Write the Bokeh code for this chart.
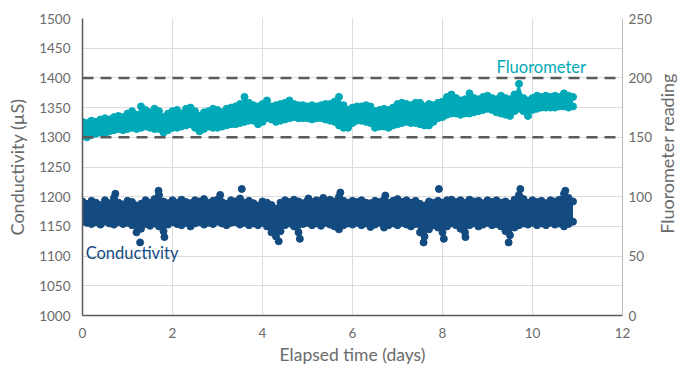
import math
from bokeh.plotting import figure
from bokeh.layouts import row
from bokeh.models import Range1d, LinearAxis, FixedTicker, Label, Span
from bokeh.embed import file_html
from bokeh.resources import INLINE

# ---------------- data ----------------
time_days = [
    0.0, 0.1, 0.2, 0.3, 0.4, 0.5, 0.6, 0.7, 0.8, 0.9,
    1.0, 1.1, 1.2, 1.3, 1.4, 1.5, 1.6, 1.7, 1.8, 1.9,
    2.0, 2.1, 2.2, 2.3, 2.4, 2.5, 2.6, 2.7, 2.8, 2.9,
    3.0, 3.1, 3.2, 3.3, 3.4, 3.5, 3.6, 3.7, 3.8, 3.9,
    4.0, 4.1, 4.2, 4.3, 4.4, 4.5, 4.6, 4.7, 4.8, 4.9,
    5.0, 5.1, 5.2, 5.3, 5.4, 5.5, 5.6, 5.7, 5.8, 5.9,
    6.0, 6.1, 6.2, 6.3, 6.4, 6.5, 6.6, 6.7, 6.8, 6.9,
    7.0, 7.1, 7.2, 7.3, 7.4, 7.5, 7.6, 7.7, 7.8, 7.9,
    8.0, 8.1, 8.2, 8.3, 8.4, 8.5, 8.6, 8.7, 8.8, 8.9,
    9.0, 9.1, 9.2, 9.3, 9.4, 9.5, 9.6, 9.7, 9.8, 9.9,
    10.0, 10.1, 10.2, 10.3, 10.4, 10.5, 10.6, 10.7, 10.8, 10.9,
]

fluor_high = [
    163, 162, 164, 163, 165, 166, 165, 167, 168, 167,
    170, 172, 169, 176, 173, 171, 174, 172, 167, 170,
    172, 173, 170, 174, 175, 172, 168, 171, 172, 174,
    173, 171, 174, 175, 176, 178, 184, 179, 177, 176,
    178, 181, 176, 177, 178, 179, 181, 178, 177, 177,
    176, 177, 176, 177, 178, 178, 180, 184, 177, 173,
    175, 176, 176, 177, 176, 172, 173, 174, 173, 175,
    178, 179, 178, 177, 179, 179, 176, 178, 177, 179,
    180, 184, 186, 183, 181, 182, 187, 183, 182, 184,
    185, 183, 182, 185, 183, 182, 186, 195, 183, 181,
    183, 185, 184, 185, 184, 185, 184, 187, 185, 184,
]
fluor_low = [
    151, 150, 152, 153, 154, 153, 155, 156, 157, 156,
    157, 158, 157, 158, 159, 158, 157, 157, 154, 156,
    158, 158, 159, 160, 161, 158, 155, 157, 159, 158,
    158, 159, 160, 161, 161, 162, 163, 164, 164, 161,
    163, 166, 165, 163, 164, 165, 166, 167, 166, 166,
    166, 165, 166, 166, 165, 164, 163, 160, 158, 158,
    162, 164, 164, 163, 162, 158, 159, 159, 158, 160,
    161, 162, 163, 162, 162, 161, 160, 160, 163, 166,
    167, 169, 170, 170, 169, 170, 170, 171, 172, 173,
    174, 173, 171, 170, 169, 168, 172, 174, 172, 168,
    173, 174, 175, 175, 175, 175, 176, 176, 175, 176,
]

cond_high = [
    1192, 1188, 1193, 1190, 1186, 1194, 1189, 1198, 1190, 1187,
    1193, 1191, 1185, 1188, 1194, 1190, 1196, 1203, 1192, 1189,
    1194, 1190, 1195, 1191, 1189, 1194, 1192, 1196, 1190, 1193,
    1195, 1191, 1188, 1194, 1192, 1197, 1190, 1193, 1189, 1185,
    1192, 1190, 1186, 1180, 1190, 1194, 1191, 1195, 1192, 1189,
    1193, 1191, 1194, 1190, 1192, 1195, 1192, 1200, 1193, 1190,
    1193, 1191, 1194, 1190, 1189, 1193, 1191, 1195, 1190, 1193,
    1196, 1191, 1194, 1190, 1193, 1188, 1185, 1192, 1190, 1193,
    1190, 1194, 1195, 1191, 1194, 1190, 1195, 1192, 1193, 1189,
    1194, 1191, 1194, 1190, 1192, 1188, 1195, 1203, 1196, 1190,
    1194, 1191, 1193, 1189, 1194, 1192, 1195, 1205, 1198, 1192,
]
cond_low = [
    1158, 1156, 1154, 1157, 1153, 1158, 1155, 1153, 1157, 1154,
    1156, 1152, 1140, 1146, 1154, 1151, 1155, 1150, 1142, 1153,
    1157, 1154, 1152, 1156, 1150, 1155, 1157, 1153, 1156, 1154,
    1158, 1155, 1152, 1156, 1157, 1153, 1156, 1152, 1155, 1152,
    1156, 1150, 1140, 1133, 1142, 1152, 1155, 1150, 1140, 1154,
    1156, 1152, 1155, 1151, 1156, 1153, 1150, 1145, 1152, 1155,
    1153, 1156, 1152, 1155, 1149, 1153, 1156, 1148, 1152, 1155,
    1152, 1156, 1153, 1150, 1154, 1140, 1133, 1145, 1152, 1148,
    1140, 1150, 1155, 1152, 1146, 1140, 1152, 1155, 1150, 1153,
    1156, 1152, 1154, 1150, 1142, 1135, 1148, 1152, 1155, 1153,
    1156, 1152, 1155, 1152, 1156, 1153, 1155, 1150, 1154, 1158,
]

cond_outlier_t = [0.73, 1.28, 1.69, 1.82, 3.06, 3.54, 4.36, 4.83, 5.02,
                  5.35, 5.73, 6.73, 7.58, 7.92, 8.03, 8.51, 9.47, 9.73, 10.73]
cond_outlier_v = [1205, 1123, 1210, 1132, 1203, 1213, 1125, 1129, 1197,
                  1198, 1207, 1202, 1123, 1213, 1129, 1132, 1123, 1213, 1210]

fluor_limits = [150, 200]

x_ticks = [0, 2, 4, 6, 8, 10, 12]
cond_ticks = [1000, 1050, 1100, 1150, 1200, 1250, 1300, 1350, 1400, 1450, 1500]
fluor_ticks = [0, 50, 100, 150, 200, 250]

# ---------------- styling ----------------
TEAL = "#00a9b8"
NAVY = "#134a80"
AXIS_DARK = "#5a5a5a"
TEXT_GRAY = "#6a6a6a"
GRID = "#dcdcdc"
FONT = "Lato"

p = figure(output_backend="svg", toolbar_location=None,
           x_range=Range1d(0, 12), y_range=Range1d(1000, 1500),
           frame_width=540, frame_height=297,
           min_border_left=82, min_border_right=0, min_border_top=18,
           min_border_bottom=20)
p.extra_y_ranges = {"fluor": Range1d(0, 250)}
p.outline_line_color = None
p.background_fill_color = "white"
p.border_fill_color = "white"

p.xgrid.ticker = FixedTicker(ticks=x_ticks)
p.ygrid.ticker = FixedTicker(ticks=cond_ticks)
p.xgrid.grid_line_color = GRID
p.ygrid.grid_line_color = GRID
p.xgrid.grid_line_width = 1
p.ygrid.grid_line_width = 1

xa = p.xaxis[0]
xa.ticker = FixedTicker(ticks=x_ticks)
xa.axis_label = "Elapsed time (days)"
ya = p.yaxis[0]
ya.ticker = FixedTicker(ticks=cond_ticks)
ya.axis_label = "Conductivity (µS)"
ra = LinearAxis(y_range_name="fluor", ticker=FixedTicker(ticks=fluor_ticks))
p.add_layout(ra, "right")

for ax in (xa, ya, ra):
    ax.major_tick_line_color = None
    ax.minor_tick_line_color = None
    ax.major_label_text_font = FONT
    ax.major_label_text_font_size = "13.5px"
    ax.major_label_text_color = TEXT_GRAY
    ax.axis_label_text_font = FONT
    ax.axis_label_text_font_size = "18px"
    ax.axis_label_text_font_style = "normal"
    ax.axis_label_text_color = TEXT_GRAY
    ax.major_label_standoff = 6
ra.major_tick_out = 0
ra.minor_tick_out = 0
xa.axis_label_text_font_size = "17.5px"
xa.axis_line_color = AXIS_DARK
xa.axis_line_width = 1.5
ya.axis_line_color = AXIS_DARK
ya.axis_line_width = 1.5
ra.axis_line_color = "#bdbdbd"
ra.axis_line_width = 1
xa.axis_label_standoff = 3
ya.axis_label_standoff = 8

for lim in fluor_limits:
    p.add_layout(Span(location=lim, dimension="width", y_range_name="fluor",
                      line_color=AXIS_DARK, line_width=2.5, line_dash="11 7"))

p.varea(x=time_days, y1=fluor_low, y2=fluor_high, fill_color=TEAL,
        y_range_name="fluor")
p.scatter(x=time_days, y=fluor_high, size=7, fill_color=TEAL, line_color=TEAL,
          y_range_name="fluor")
p.scatter(x=time_days, y=fluor_low, size=7, fill_color=TEAL, line_color=TEAL,
          y_range_name="fluor")

p.varea(x=time_days, y1=cond_low, y2=cond_high, fill_color=NAVY)
p.scatter(x=time_days, y=cond_high, size=7, fill_color=NAVY, line_color=NAVY)
p.scatter(x=time_days, y=cond_low, size=7, fill_color=NAVY, line_color=NAVY)
p.scatter(x=cond_outlier_t, y=cond_outlier_v, size=7, fill_color=NAVY,
          line_color=NAVY)

p.add_layout(Label(x=9.2, y=209, y_range_name="fluor", text="Fluorometer",
                   text_font=FONT, text_font_size="16.5px", text_color=TEAL,
                   text_baseline="middle"))
p.add_layout(Label(x=0.07, y=1106, text="Conductivity",
                   text_font=FONT, text_font_size="16.5px", text_color=NAVY,
                   text_baseline="middle"))

# narrow strip holding the right-hand axis title (reads bottom-to-top)
strip = figure(output_backend="svg", toolbar_location=None,
               x_range=Range1d(0, 1), y_range=Range1d(0, 1),
               frame_width=24, frame_height=362,
               min_border_left=0, min_border_right=0, min_border_top=0,
               min_border_bottom=0)
strip.axis.visible = False
strip.grid.visible = False
strip.outline_line_color = None
strip.add_layout(Label(x=0.5, y=0.627, text="Fluorometer reading",
                       angle=math.pi / 2, text_align="center",
                       text_baseline="middle", text_font=FONT,
                       text_font_size="18px", text_color=TEXT_GRAY))

layout = row(p, strip, spacing=0)
open("out.html", "w").write(file_html(layout, INLINE))
